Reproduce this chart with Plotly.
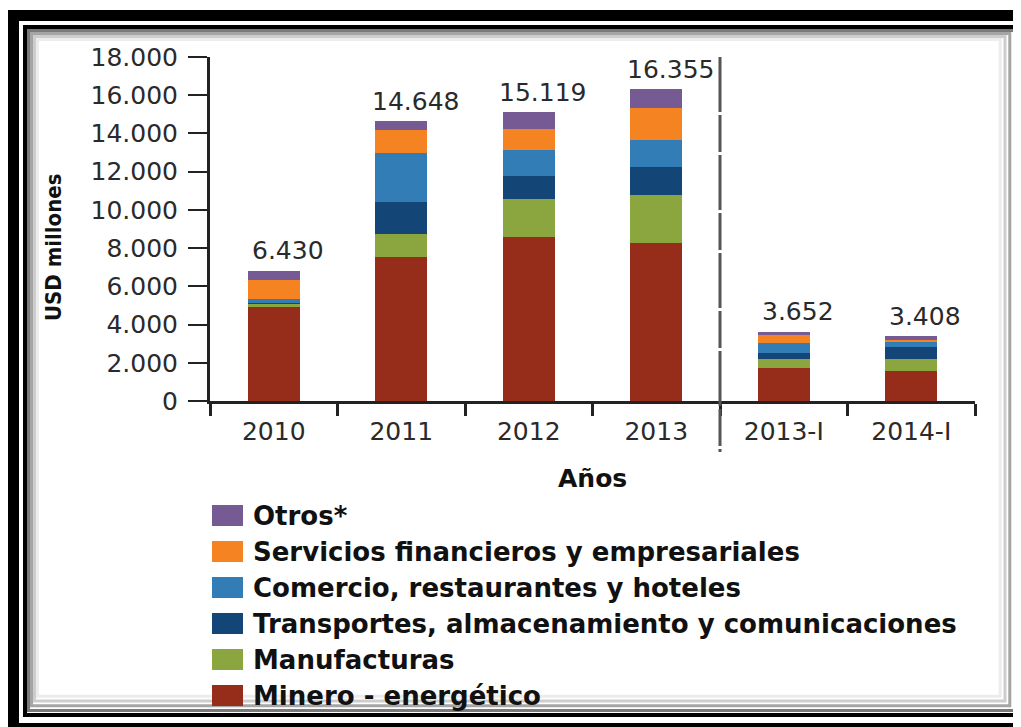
import plotly.graph_objects as go

# ---- data (USD millones) ----
categories = ["2010", "2011", "2012", "2013", "2013-I", "2014-I"]
minero = [4930, 7550, 8600, 8280, 1740, 1570]
manufacturas = [180, 1190, 1970, 2500, 460, 610]
transportes = [40, 1690, 1200, 1480, 300, 660]
comercio = [170, 2560, 1360, 1400, 520, 260]
servicios = [1010, 1190, 1100, 1660, 430, 90]
otros = [490, 470, 880, 990, 180, 210]
total_labels = ["6.430", "14.648", "15.119", "16.355", "3.652", "3.408"]

series_names = [
    "Minero - energético",
    "Manufacturas",
    "Transportes, almacenamiento y comunicaciones",
    "Comercio, restaurantes y hoteles",
    "Servicios financieros y empresariales",
    "Otros*",
]
series_values = [minero, manufacturas, transportes, comercio, servicios, otros]
colors = ["#962D1B", "#8BA63E", "#134676", "#327DB5", "#F58322", "#755A93"]

# page body has an 8px margin: screen pixel p -> figure pixel p - OFF
OFF = 8
W, H = 1013, 719
ML, MT = 210 - OFF, 57 - OFF
MR = W - (975 - OFF)
MB = H - (401 - OFF)
PW, PH = W - ML - MR, H - MT - MB


def px_x(p):
    return (p - OFF - ML) / PW


def px_y(p):
    return (H - MB - (p - OFF)) / PH


fig = go.Figure()
for name, vals, col in zip(series_names, series_values, colors):
    fig.add_trace(go.Bar(
        x=categories, y=vals, name=name,
        marker=dict(color=col, line=dict(width=0)),
        showlegend=False,
        hovertemplate="%{x}: %{y}<extra>" + name + "</extra>",
    ))

totals = [sum(v) for v in zip(*series_values)]
annotations = []
for i, (tot, lab) in enumerate(zip(totals, total_labels)):
    annotations.append(dict(
        x=i, y=tot, xref="x", yref="y", text=lab, showarrow=False,
        xanchor="center", yanchor="middle", xshift=14, yshift=20,
        font=dict(family="DejaVu Sans", size=25, color="#2a2a2a"),
    ))

# axis titles
annotations.append(dict(
    x=px_x(53), y=px_y(247), xref="paper", yref="paper", text="<b>USD millones</b>",
    showarrow=False, textangle=-90, xanchor="center", yanchor="middle",
    font=dict(family="DejaVu Sans Condensed, DejaVu Sans", size=22, color="#111"),
))
annotations.append(dict(
    x=0.5, y=px_y(478), xref="paper", yref="paper", text="<b>Años</b>",
    showarrow=False, xanchor="center", yanchor="middle",
    font=dict(family="DejaVu Sans", size=25, color="#111"),
))

shapes = []
# manual legend (top: Otros ... bottom: Minero)
row_y = [515.5, 551.5, 587.5, 623.5, 659.5, 695.5]
for i, (name, col) in enumerate(zip(series_names[::-1], colors[::-1])):
    yc = row_y[i]
    shapes.append(dict(
        type="rect", xref="paper", yref="paper",
        x0=px_x(212), x1=px_x(243), y0=px_y(yc - 10.5), y1=px_y(yc + 10.5),
        fillcolor=col, line=dict(width=0),
    ))
    annotations.append(dict(
        x=px_x(251), y=px_y(yc), xref="paper", yref="paper", text="<b>" + name + "</b>",
        showarrow=False, xanchor="left", yanchor="middle",
        font=dict(family="DejaVu Sans", size=26, color="#111"),
    ))

# dashed separator between annual and quarterly data
shapes.append(dict(
    type="line", xref="x", yref="paper", x0=3.5, x1=3.5, y0=1.0, y1=px_y(452),
    line=dict(color="#555555", width=3, dash="55px,3px,37px,3px"), layer="above",
))

# frame: outer thick border, inner thin border and soft shadow
shapes.append(dict(
    type="rect", xref="paper", yref="paper",
    x0=px_x(13.5), x1=px_x(1040), y0=px_y(15.5), y1=px_y(728.5),
    line=dict(color="black", width=11), fillcolor="rgba(0,0,0,0)", layer="above",
))
shapes.append(dict(
    type="rect", xref="paper", yref="paper",
    x0=px_x(25), x1=px_x(1019), y0=px_y(27), y1=px_y(715),
    line=dict(color="black", width=4), fillcolor="rgba(0,0,0,0)", layer="above",
))
shadow = [(28.5, "#7a7a7a"), (31.5, "#a5a5a5"), (34.5, "#cdcdcd"), (37.5, "#ececec")]
for inset, col in shadow:
    d = inset - 27
    shapes.append(dict(
        type="rect", xref="paper", yref="paper",
        x0=px_x(27 + d), x1=px_x(1017 - d * 1.6), y0=px_y(29 + d), y1=px_y(713 - d * 1.6),
        line=dict(color=col, width=3), fillcolor="rgba(0,0,0,0)", layer="below",
    ))

fig.update_layout(
    width=W, height=H,
    margin=dict(l=ML, r=MR, t=MT, b=MB, pad=0),
    barmode="stack", bargap=0.59,
    paper_bgcolor="white", plot_bgcolor="white",
    separators=",.",
    showlegend=False,
    annotations=annotations,
    shapes=shapes,
    xaxis=dict(
        type="category", range=[-0.5, 5.5],
        showline=True, linecolor="#222", linewidth=3,
        ticks="outside", tickson="boundaries", ticklen=12, tickwidth=3, tickcolor="#222",
        ticklabelstandoff=6,
        tickfont=dict(family="DejaVu Sans", size=25, color="#2a2a2a"),
        showgrid=False, zeroline=False, automargin=False,
    ),
    yaxis=dict(
        range=[0, 18000], tickmode="array",
        tickvals=[0, 2000, 4000, 6000, 8000, 10000, 12000, 14000, 16000, 18000],
        tickformat=",d",
        showline=True, linecolor="#222", linewidth=3,
        ticks="outside", ticklen=19, tickwidth=2, tickcolor="#222",
        ticklabelstandoff=5,
        tickfont=dict(family="DejaVu Sans", size=25, color="#2a2a2a"),
        showgrid=False, zeroline=False, automargin=False,
    ),
)

fig.write_html("out.html")
